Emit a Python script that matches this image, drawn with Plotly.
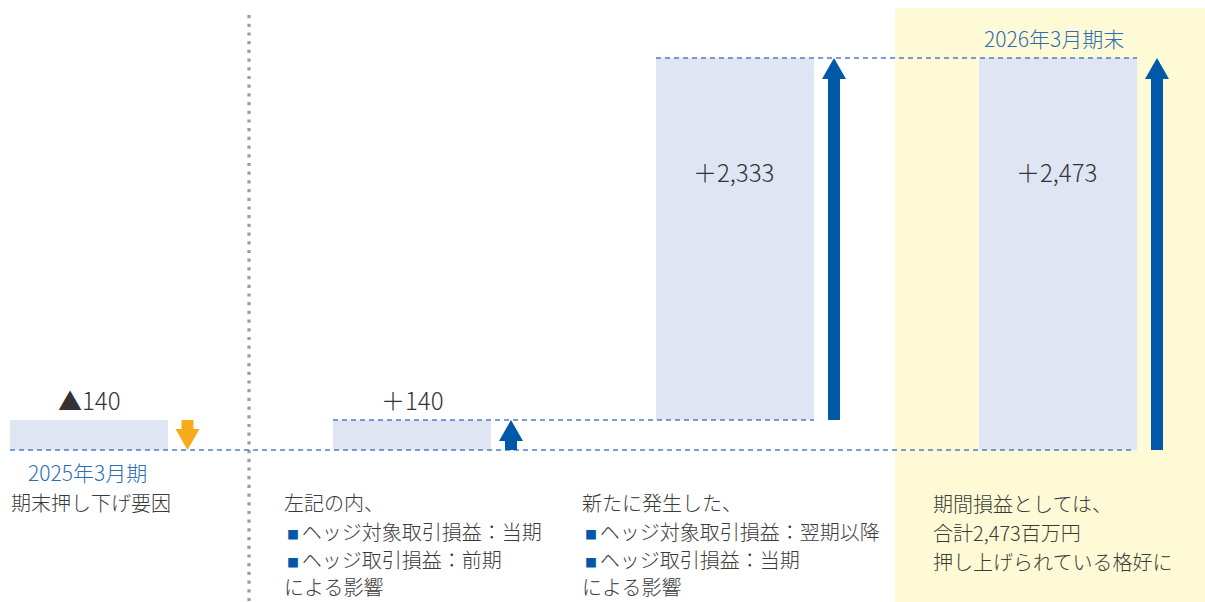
import plotly.graph_objects as go

# ---------------- data ----------------
steps = ["2025年3月期 期末押し下げ要因", "前期分の影響", "新たに発生した影響", "2026年3月期末"]
values = [-140, 140, 2333, 2473]
value_labels = ["▲140", "＋140", "＋2,333", "＋2,473"]
label_2025 = "2025年3月期"
label_2026 = "2026年3月期末"
note_1 = ["期末押し下げ要因"]
note_2 = ["左記の内、", "■ヘッジ対象取引損益：当期", "■ヘッジ取引損益：前期", "による影響"]
note_3 = ["新たに発生した、", "■ヘッジ対象取引損益：翌期以降", "■ヘッジ取引損益：当期", "による影響"]
note_4 = ["期間損益としては、", "合計2,473百万円", "押し上げられている格好に"]

# ---------------- layout constants ----------------
W, H = 1205, 602
BASE_PX, BREAK_PX, TOP_PX = 450, 420, 58
BAR_W = 158
BAR_X = [89, 412, 735, 1058]
ARROW_DX = 99
SHAFT_W, HEAD_W, HEAD_H = 12, 24, 21

BAR_COL = "#DFE5F2"
BLUE = "#0059A8"
ORANGE = "#F8AB1A"
LINE_COL = "#4F7FC6"
TXT = "#3A3A3A"
LABEL_BLUE = "#2A6EB4"
YELLOW = "#FFFAD6"
FONT = "Noto Sans CJK JP"
WEIGHT = 300

# bases / tops of each bar (waterfall)
brk = abs(values[0])
total = values[3]
bases = [0, 0, values[1], 0]
heights = [abs(values[0]), values[1], values[2], values[3]]

# two linear scales (schematic, broken scale): lower for 0..brk, upper for brk..total
k1 = brk / (BASE_PX - BREAK_PX)
k2 = (total - brk) / (BREAK_PX - TOP_PX)
y_range = [-(H - BASE_PX) * k1, BASE_PX * k1]
y2_range = [brk - (H - BREAK_PX) * k2, brk + BREAK_PX * k2]

fig = go.Figure()

lo_x, lo_b, lo_h, hi_x, hi_b, hi_h = [], [], [], [], [], []
for x, b, h in zip(BAR_X, bases, heights):
    t = b + h
    if b < brk:
        lo_x.append(x); lo_b.append(b); lo_h.append(min(t, brk) - b)
    if t > brk:
        s = max(b, brk)
        hi_x.append(x); hi_b.append(s); hi_h.append(t - s)

fig.add_trace(go.Bar(x=lo_x, y=lo_h, base=lo_b, width=BAR_W, marker=dict(color=BAR_COL, line=dict(width=0)),
                     yaxis="y", hoverinfo="skip", showlegend=False))
fig.add_trace(go.Bar(x=hi_x, y=hi_h, base=hi_b, width=BAR_W, marker=dict(color=BAR_COL, line=dict(width=0)),
                     yaxis="y2", hoverinfo="skip", showlegend=False))

shapes = []
# yellow highlight panel
shapes.append(dict(type="rect", xref="x", yref="paper", x0=895, x1=W, y0=0, y1=1 - 8 / H,
                   fillcolor=YELLOW, line=dict(width=0), layer="below"))
# dotted separator
shapes.append(dict(type="line", xref="x", yref="paper", x0=249, x1=249, y0=1 - 15 / H, y1=0,
                   line=dict(color="#9C9C9C", width=3.2, dash="3.2px,5.5px"), layer="above"))
# dashed reference lines
dash = dict(color=LINE_COL, width=1.3, dash="5px,4px")
shapes.append(dict(type="line", xref="x", yref="y", x0=BAR_X[0] - BAR_W / 2, x1=BAR_X[3] + BAR_W / 2 - 3,
                   y0=0, y1=0, line=dash, layer="above"))
shapes.append(dict(type="line", xref="x", yref="y", x0=BAR_X[1] - BAR_W / 2, x1=BAR_X[2] + BAR_W / 2,
                   y0=values[1], y1=values[1], line=dash, layer="above"))
shapes.append(dict(type="line", xref="x", yref="y2", x0=BAR_X[2] - BAR_W / 2, x1=BAR_X[3] + BAR_W / 2,
                   y0=total, y1=total, line=dash, layer="above"))


def arrow_path(cx, y_from, y_to, head_len):
    """vertical arrow from y_from to y_to (tip at y_to)."""
    d = 1 if y_to > y_from else -1
    hb = y_to - d * head_len
    s, hw = SHAFT_W / 2, HEAD_W / 2
    return (f"M{cx - s},{y_from} L{cx - s},{hb} L{cx - hw},{hb} L{cx},{y_to} "
            f"L{cx + hw},{hb} L{cx + s},{hb} L{cx + s},{y_from} Z")


def rect_path(cx, y0, y1):
    s = SHAFT_W / 2
    return f"M{cx - s},{y0} L{cx - s},{y1} L{cx + s},{y1} L{cx + s},{y0} Z"


ax = [x + ARROW_DX for x in BAR_X]
# arrow 1 (down, orange): from brk to 0
shapes.append(dict(type="path", xref="x", yref="y", path=arrow_path(ax[0] - 0.5, heights[0], 0, HEAD_H * k1),
                   fillcolor=ORANGE, line=dict(width=0)))
# arrow 2 (up): 0 -> 140
shapes.append(dict(type="path", xref="x", yref="y", path=arrow_path(ax[1], 0, values[1], HEAD_H * k1),
                   fillcolor=BLUE, line=dict(width=0)))
# arrow 3 (up): 140 -> total
shapes.append(dict(type="path", xref="x", yref="y2", path=arrow_path(ax[2], values[1], total, HEAD_H * k2),
                   fillcolor=BLUE, line=dict(width=0)))
# arrow 4 (up): 0 -> total (split across the two scales)
shapes.append(dict(type="path", xref="x", yref="y", path=rect_path(ax[3], 0, brk + 0.5 * k1),
                   fillcolor=BLUE, line=dict(width=0)))
shapes.append(dict(type="path", xref="x", yref="y2", path=arrow_path(ax[3], brk, total, HEAD_H * k2),
                   fillcolor=BLUE, line=dict(width=0)))

annotations = []


def ann(text, x, py, anchor="left", size=20, color=TXT):
    annotations.append(dict(text=text, x=x, y=1 - py / H, xref="x", yref="paper", xanchor=anchor,
                            yanchor="middle", showarrow=False,
                            font=dict(family=FONT, size=size, color=color, weight=WEIGHT)))


def rich(line):
    if line.startswith("■"):
        return (f"<span style='color:{BLUE};font-size:12px'>■\u00a0</span>" + line[1:])
    return line


# value labels
ann(value_labels[0], BAR_X[0], 399, "center", 24, "#333333")
ann(value_labels[1], BAR_X[1], 399, "center", 24, "#333333")
ann(value_labels[2], BAR_X[2] - 2, 171, "center", 24, "#333333")
ann(value_labels[3], BAR_X[3] - 2, 171, "center", 24, "#333333")
# period labels
ann(label_2025, 26, 472, "left", 21, LABEL_BLUE)
ann(label_2026, 982, 38, "left", 21, LABEL_BLUE)
# notes
ys = [502, 531, 559, 586]
for i, t in enumerate(note_1):
    ann(rich(t), 9, ys[i])
for i, t in enumerate(note_2):
    ann(rich(t), 282 + (3 if t.startswith("■") else 0), ys[i])
for i, t in enumerate(note_3):
    ann(rich(t), 580 + (3 if t.startswith("■") else 0), ys[i])
for i, t in enumerate(note_4):
    ann(rich(t), 931, [503, 532, 561][i])

fig.update_layout(
    width=W, height=H, autosize=False,
    margin=dict(l=0, r=0, t=0, b=0, pad=0),
    paper_bgcolor="white", plot_bgcolor="rgba(0,0,0,0)",
    barmode="overlay", showlegend=False,
    xaxis=dict(range=[0, W], visible=False, fixedrange=True),
    yaxis=dict(range=y_range, visible=False, fixedrange=True),
    yaxis2=dict(range=y2_range, visible=False, fixedrange=True, overlaying="y"),
    shapes=shapes, annotations=annotations,
    font=dict(family=FONT, color=TXT),
)

fig.write_html("out.html", config={"displayModeBar": False, "staticPlot": True},
               post_script="document.body.style.margin='0';document.body.style.overflow='hidden';")
